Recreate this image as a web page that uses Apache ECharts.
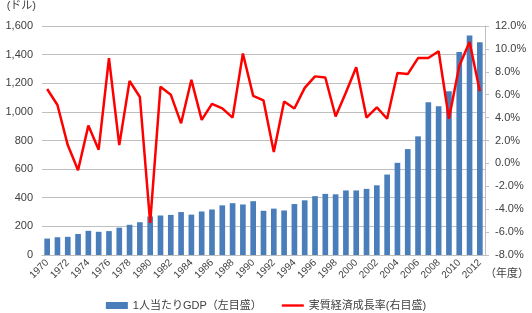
<!DOCTYPE html>
<html lang="ja">
<head>
    <meta charset="UTF-8" />
    <title>1人当たりGDPと実質経済成長率</title>
    <script src="https://cdn.jsdelivr.net/npm/echarts@6/dist/echarts.min.js"></script>
    <style>
        body { margin: 0; background: #fff; }
        #chart { width: 532px; height: 313px; }
    </style>
</head>
<body>
<div id="chart"></div>
<script>
    // 年度
    const years = [];
    for (let y = 1970; y <= 2012; y++) years.push(String(y));

    // 1人当たりGDP（ドル）
    const gdpPerCapita = [
        115, 124, 127, 147, 169, 162, 167, 191, 211, 229,
        269, 276, 280, 300, 282, 304, 318, 347, 362, 353,
        376, 309, 324, 311, 356, 382, 411, 427, 424, 451,
        451, 462, 487, 562, 644, 740, 829, 1067, 1040, 1144,
        1418, 1533, 1487
    ];

    // 実質経済成長率（%）
    const growthRate = [
        6.5, 5.1, 1.6, -0.6, 3.3, 1.2, 9.2, 1.6, 7.2, 5.8,
        -5.2, 6.7, 6.0, 3.5, 7.3, 3.8, 5.2, 4.8, 4.0, 9.6,
        5.9, 5.5, 1.0, 5.4, 4.8, 6.6, 7.6, 7.5, 4.1, 6.2,
        8.4, 4.0, 4.9, 3.9, 7.9, 7.8, 9.2, 9.2, 9.8, 3.9,
        8.5, 10.6, 6.3
    ];

    const font = '"Liberation Sans", "Noto Sans CJK JP", sans-serif';
    const textColor = '#404040';

    const chart = echarts.init(document.getElementById('chart'));

    chart.setOption({
        animation: false,
        textStyle: { fontFamily: font, color: textColor },
        grid: { left: 42, right: 40, top: 15, bottom: 58 },
        legend: {
            top: 295,
            left: 'center',
            itemWidth: 22,
            itemHeight: 7,
            itemGap: 20,
            textStyle: { fontSize: 11, color: textColor, fontFamily: font },
            data: [
                { name: '1人当たりGDP（左目盛）', icon: 'rect' },
                // 線だけの凡例（丸マーカーなし）
                { name: '実質経済成長率(右目盛)', icon: 'path://M0,0H28V3H0Z' }
            ]
        },
        xAxis: {
            type: 'category',
            data: years,
            boundaryGap: true,
            name: '（年度）',
            nameLocation: 'end',
            nameGap: 0,
            nameTextStyle: { fontSize: 11, color: textColor, verticalAlign: 'top', padding: [13, 0, 0, 0] },
            axisLine: { lineStyle: { color: '#bfbfbf' } },
            axisTick: { show: false },
            axisLabel: {
                interval: 1,
                rotate: 45,
                fontSize: 10,
                color: textColor,
                margin: 6
            }
        },
        yAxis: [
            {
                type: 'value',
                min: 0,
                max: 1600,
                interval: 200,
                name: '(ドル)',
                nameLocation: 'end',
                nameGap: 15,
                nameTextStyle: { fontSize: 11, color: textColor, align: 'right', padding: [0, 6, 0, 0] },
                axisLine: { show: false },
                axisTick: { show: false },
                splitLine: { lineStyle: { color: '#bfbfbf' } },
                axisLabel: {
                    fontSize: 11,
                    color: textColor,
                    margin: 9,
                    formatter: v => v.toLocaleString('en-US')
                }
            },
            {
                type: 'value',
                min: -8,
                max: 12,
                interval: 2,
                position: 'right',
                axisLine: { show: true, lineStyle: { color: '#bfbfbf' } },
                axisTick: { show: true, length: 4, lineStyle: { color: '#bfbfbf' } },
                splitLine: { show: false },
                axisLabel: {
                    fontSize: 11,
                    color: textColor,
                    margin: 10,
                    formatter: v => v.toFixed(1) + '%'
                }
            }
        ],
        series: [
            {
                name: '1人当たりGDP（左目盛）',
                type: 'bar',
                yAxisIndex: 0,
                barWidth: '55%',
                itemStyle: { color: '#4a7ebb' },
                data: gdpPerCapita
            },
            {
                name: '実質経済成長率(右目盛)',
                type: 'line',
                yAxisIndex: 1,
                symbol: 'none',
                lineStyle: { color: '#ff0000', width: 2.5 },
                itemStyle: { color: '#ff0000' },
                data: growthRate
            }
        ]
    });
</script>
</body>
</html>
